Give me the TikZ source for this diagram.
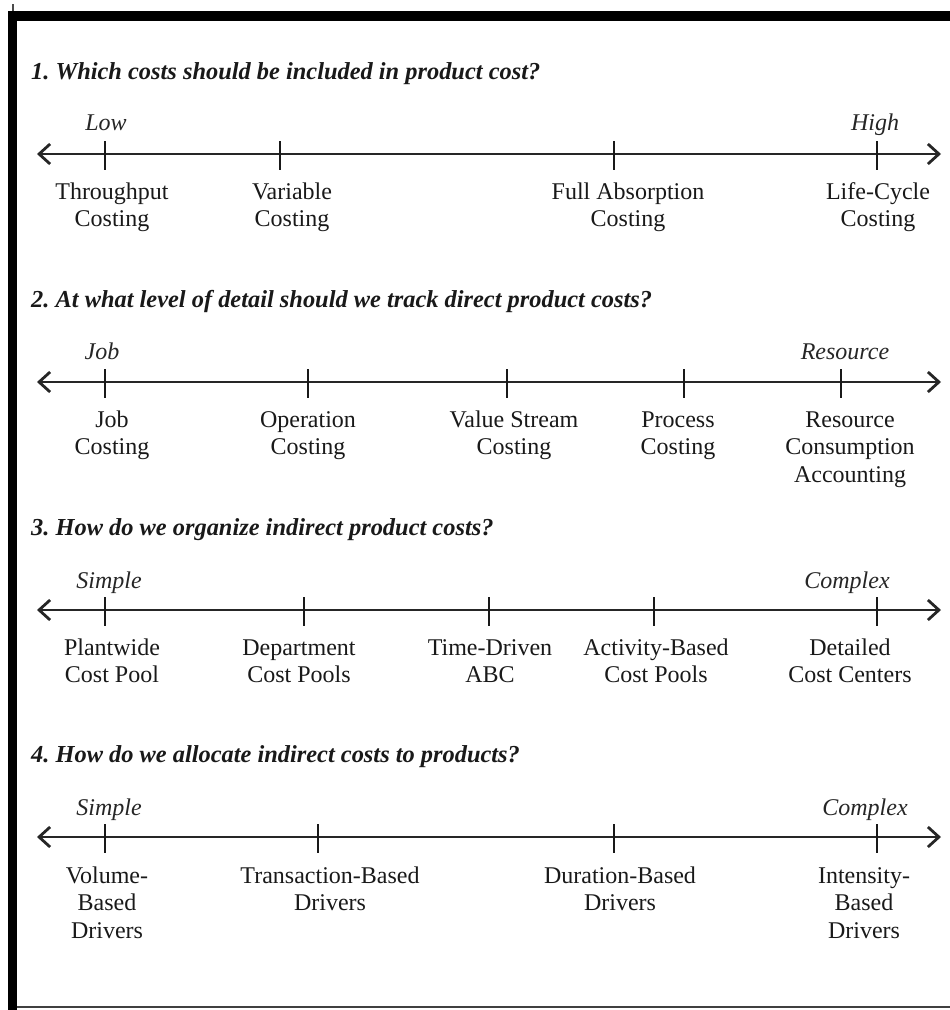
\documentclass[tikz,border=0pt]{standalone}
\usepackage{fontspec}
\setmainfont{Liberation Serif}
\usetikzlibrary{arrows.meta}
\frenchspacing
\begin{document}
\begin{tikzpicture}[x=1pt,y=-1pt,
  question/.style={anchor=base west, inner sep=0pt, text=black!90,
    font=\fontsize{24.4}{28}\selectfont\bfseries\itshape},
  endlabel/.style={anchor=base, inner sep=0pt, text=black!85,
    font=\fontsize{24}{28}\selectfont\itshape},
  % multi-line labels: the base anchor sits on the last line
  choice/.style={anchor=base, inner sep=0pt, align=center, text=black!90,
    font=\fontsize{24}{27.5}\selectfont},
  two/.style={yshift=-27.5pt},
  three/.style={yshift=-55pt},
  scaleline/.style={line width=2.4pt, draw=black!85,
    {Straight Barb[length=11pt,width=20pt,line width=2.8pt]}-{Straight Barb[length=11pt,width=20pt,line width=2.8pt]}},
  tickmark/.style={line width=1.5pt, draw=black!90},
]
\useasboundingbox (0,0) rectangle (950,1010);

% frame: heavy left and top rules, thin bottom rule
\fill[black] (8,11) rectangle (17,1010);
\fill[black] (8,11) rectangle (950,21);
\draw[line width=1.3pt, black!70] (13,4) -- (13,11);
\draw[line width=1.6pt, black!75] (17,1007) -- (950,1007);

% ---------------- 1. product cost scope ----------------
\node[question] (q1) at (31,79) {1. Which costs should be included in product cost?};
\coordinate (a1l) at (37,154);
\coordinate (a1r) at (941,154);
\draw[scaleline] (a1l) -- (a1r);
\coordinate (t11) at (105,154);
\coordinate (t12) at (280,154);
\coordinate (t13) at (614,154);
\coordinate (t14) at (877,154);
\foreach \t in {t11,t12,t13,t14} \draw[tickmark] (\t) ++(0,-13) -- ++(0,29);
\node[endlabel] (low) at (106,130) {Low};
\node[endlabel] (high) at (875,130) {High};
\node[choice,two] (c11) at (112,199) {Throughput\\Costing};
\node[choice,two] (c12) at (292,199) {Variable\\Costing};
\node[choice,two] (c13) at (628,199) {Full Absorption\\Costing};
\node[choice,two] (c14) at (878,199) {Life-Cycle\\Costing};

% ---------------- 2. direct cost detail ----------------
\node[question] (q2) at (31,307) {2. At what level of detail should we track direct product costs?};
\coordinate (a2l) at (37,382);
\coordinate (a2r) at (941,382);
\draw[scaleline] (a2l) -- (a2r);
\coordinate (t21) at (105,382);
\coordinate (t22) at (308,382);
\coordinate (t23) at (507,382);
\coordinate (t24) at (684,382);
\coordinate (t25) at (841,382);
\foreach \t in {t21,t22,t23,t24,t25} \draw[tickmark] (\t) ++(0,-13) -- ++(0,29);
\node[endlabel] (job) at (102,359) {Job};
\node[endlabel] (res) at (845,359) {Resource};
\node[choice,two] (c21) at (112,427) {Job\\Costing};
\node[choice,two] (c22) at (308,427) {Operation\\Costing};
\node[choice,two] (c23) at (514,427) {Value Stream\\Costing};
\node[choice,two] (c24) at (678,427) {Process\\Costing};
\node[choice,three] (c25) at (850,427) {Resource\\Consumption\\Accounting};

% ---------------- 3. indirect cost organisation ----------------
\node[question] (q3) at (31,535) {3. How do we organize indirect product costs?};
\coordinate (a3l) at (37,610);
\coordinate (a3r) at (941,610);
\draw[scaleline] (a3l) -- (a3r);
\coordinate (t31) at (105,610);
\coordinate (t32) at (304,610);
\coordinate (t33) at (489,610);
\coordinate (t34) at (654,610);
\coordinate (t35) at (877,610);
\foreach \t in {t31,t32,t33,t34,t35} \draw[tickmark] (\t) ++(0,-13) -- ++(0,29);
\node[endlabel] (simple3) at (109,588) {Simple};
\node[endlabel] (complex3) at (847,588) {Complex};
\node[choice,two] (c31) at (112,655) {Plantwide\\Cost Pool};
\node[choice,two] (c32) at (299,655) {Department\\Cost Pools};
\node[choice,two] (c33) at (490,655) {Time-Driven\\ABC};
\node[choice,two] (c34) at (656,655) {Activity-Based\\Cost Pools};
\node[choice,two] (c35) at (850,655) {Detailed\\Cost Centers};

% ---------------- 4. indirect cost allocation ----------------
\node[question] (q4) at (31,762) {4. How do we allocate indirect costs to products?};
\coordinate (a4l) at (37,837);
\coordinate (a4r) at (941,837);
\draw[scaleline] (a4l) -- (a4r);
\coordinate (t41) at (105,837);
\coordinate (t42) at (318,837);
\coordinate (t43) at (614,837);
\coordinate (t44) at (877,837);
\foreach \t in {t41,t42,t43,t44} \draw[tickmark] (\t) ++(0,-13) -- ++(0,29);
\node[endlabel] (simple4) at (109,815) {Simple};
\node[endlabel] (complex4) at (865,815) {Complex};
\node[choice,three] (c41) at (107,883) {Volume-\\Based\\Drivers};
\node[choice,two] (c42) at (330,883) {Transaction-Based\\Drivers};
\node[choice,two] (c43) at (620,883) {Duration-Based\\Drivers};
\node[choice,three] (c44) at (864,883) {Intensity-\\Based\\Drivers};
\end{tikzpicture}
\end{document}
